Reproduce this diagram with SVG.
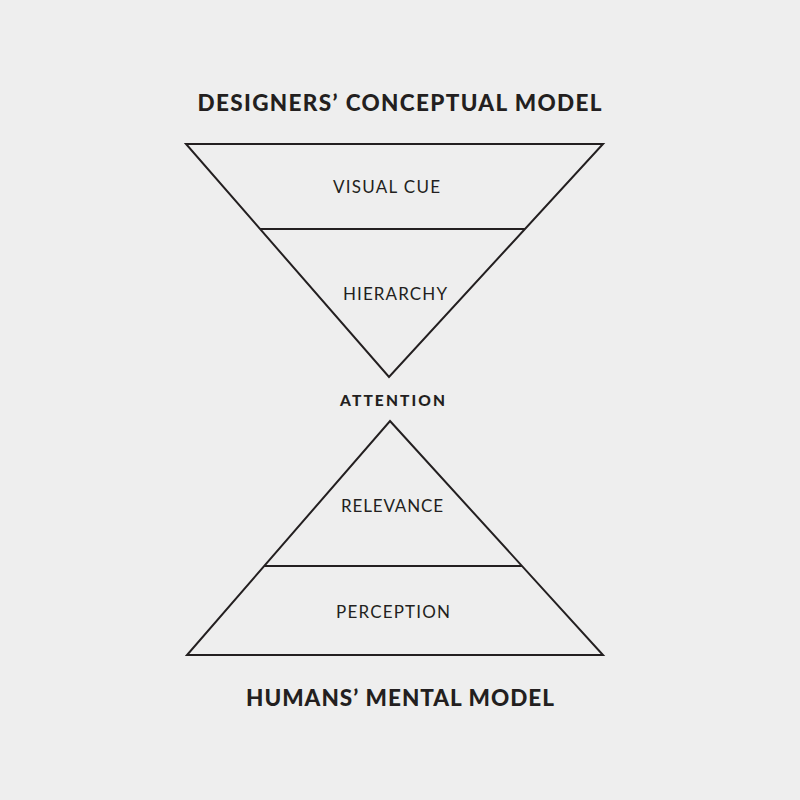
<svg xmlns="http://www.w3.org/2000/svg" width="800" height="800" viewBox="0 0 800 800">
<style>
.bg{fill:#eeeeee}
.tri{fill:none;stroke:#231f20;stroke-width:2;stroke-linejoin:miter}
.div{stroke:#231f20;stroke-width:2}
.title{font-family:Lato,"Liberation Sans",sans-serif;font-weight:900;font-size:22.5px;fill:#231f20;text-anchor:middle}
.mid{font-family:Lato,"Liberation Sans",sans-serif;font-weight:900;font-size:15.5px;fill:#231f20;text-anchor:middle}
.lbl{font-family:Lato,"Liberation Sans",sans-serif;font-weight:400;font-size:17px;fill:#231f20;text-anchor:middle}
</style>
<rect class="bg" x="0" y="0" width="800" height="800"/>
<g id="title-designers"><text class="title" x="399.5" y="110.5" textLength="404" lengthAdjust="spacing">DESIGNERS’ CONCEPTUAL MODEL</text></g>
<g id="top-triangle">
<polygon class="tri" points="186,144 603,144 389,377"/>
<line class="div" x1="260" y1="229" x2="525" y2="229"/>
</g>
<g id="visual-cue"><text class="lbl" x="386.5" y="193.3" textLength="107" lengthAdjust="spacing">VISUAL CUE</text></g>
<g id="hierarchy"><text class="lbl" x="395" y="300" textLength="104" lengthAdjust="spacing">HIERARCHY</text></g>
<g id="attention"><text class="mid" x="392.5" y="405.7" textLength="105" lengthAdjust="spacing">ATTENTION</text></g>
<g id="bottom-triangle">
<polygon class="tri" points="390,421 603,655 187,655"/>
<line class="div" x1="264" y1="566" x2="522" y2="566"/>
</g>
<g id="relevance"><text class="lbl" x="392" y="511.7" textLength="102" lengthAdjust="spacing">RELEVANCE</text></g>
<g id="perception"><text class="lbl" x="393" y="618.3" textLength="114" lengthAdjust="spacing">PERCEPTION</text></g>
<g id="title-humans"><text class="title" x="400" y="706.3" textLength="308" lengthAdjust="spacing">HUMANS’ MENTAL MODEL</text></g>
<g id="connectors"></g>
</svg>
